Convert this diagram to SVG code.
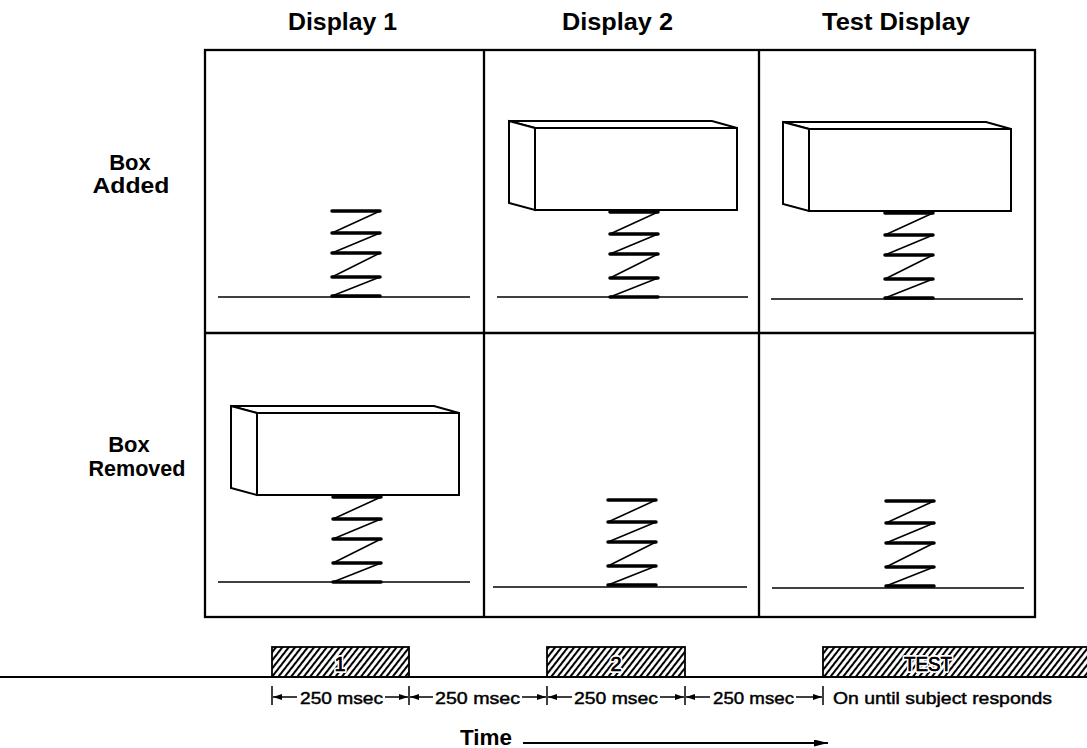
<svg xmlns="http://www.w3.org/2000/svg" xmlns:xlink="http://www.w3.org/1999/xlink" width="1087" height="748" viewBox="0 0 1087 748">
<style>
.hdr{font-family:"Liberation Sans",Arial,sans-serif;font-weight:bold;font-size:23px;fill:#000}
.lbl{font-family:"Liberation Sans",Arial,sans-serif;font-weight:bold;font-size:22px;fill:#000;text-anchor:middle}
.tl{font-family:"Liberation Sans",Arial,sans-serif;font-size:17px;fill:#000;stroke:#000;stroke-width:0.45}
.blk{font-family:"Liberation Sans",Arial,sans-serif;font-size:20px;fill:#000;text-anchor:middle;stroke:#fff;stroke-width:4;paint-order:stroke;stroke-linejoin:round}
.blk2{font-family:"Liberation Sans",Arial,sans-serif;font-size:20px;fill:#000;text-anchor:middle;stroke:#000;stroke-width:0.5}
.grid{fill:none;stroke:#000;stroke-width:2.3}
.ground{stroke:#000;stroke-width:1.6}
.bar{stroke:#000;stroke-width:3.5;stroke-linecap:round;fill:none}
.diag{stroke:#000;stroke-width:1.6;fill:none}
.box{fill:#fff;stroke:#000;stroke-width:2;stroke-linejoin:miter}
.tick{stroke:#000;stroke-width:1.5}
.arr{stroke:#000;stroke-width:1.5}
</style>
<defs>
<pattern id="hatch" patternUnits="userSpaceOnUse" width="5" height="10" patternTransform="rotate(38)">
<line x1="1" y1="-1" x2="1" y2="11" stroke="#000" stroke-width="2.1"/>
</pattern>
<marker id="ah" viewBox="0 0 9 6" refX="9" refY="3" markerWidth="9" markerHeight="6" orient="auto-start-reverse" markerUnits="userSpaceOnUse">
<path d="M0,0 L9,3 L0,6 z" fill="#000"/>
</marker>
<marker id="ahBig" viewBox="0 0 14 7" refX="14" refY="3.5" markerWidth="14" markerHeight="7" orient="auto" markerUnits="userSpaceOnUse">
<path d="M0,0 L14,3.5 L0,7 z" fill="#000"/>
</marker>
<g id="spring">
<path class="diag" d="M48,0 L0,22 M48,22 L0,42 M48,42 L0,66 M48,66 L0,85"/>
<path class="bar" d="M0,0 H48 M0,22 H48 M0,42 H48 M0,66 H48 M0,85 H48"/>
</g>
<g id="block">
<path class="box" d="M-26,-7 H177 L202,0 H0 Z"/>
<path class="box" d="M0,0 L-26,-7 V75 L0,82 Z"/>
<rect class="box" x="0" y="0" width="202" height="82"/>
</g>
</defs>
<rect width="1087" height="748" fill="#fff"/>

<g id="headers">
<text class="hdr" x="288" y="30" textLength="109" lengthAdjust="spacingAndGlyphs">Display 1</text>
<text class="hdr" x="562" y="30" textLength="111" lengthAdjust="spacingAndGlyphs">Display 2</text>
<text class="hdr" x="822" y="30" textLength="148" lengthAdjust="spacingAndGlyphs">Test Display</text>
</g>

<g id="row-labels">
<text class="lbl" x="130" y="170">Box</text>
<text class="lbl" x="131" y="193" textLength="77" lengthAdjust="spacingAndGlyphs">Added</text>
<text class="lbl" x="129" y="452">Box</text>
<text class="lbl" x="137" y="476" textLength="97" lengthAdjust="spacingAndGlyphs">Removed</text>
</g>

<g id="grid">
<rect class="grid" x="205" y="50" width="830" height="567"/>
<line class="grid" x1="484" y1="50" x2="484" y2="617"/>
<line class="grid" x1="759" y1="50" x2="759" y2="617"/>
<line class="grid" x1="205" y1="333" x2="1035" y2="333"/>
</g>

<g id="cell-r1c1">
<line class="ground" x1="218" y1="297" x2="470" y2="297"/>
<use xlink:href="#spring" href="#spring" x="332" y="211"/>
</g>
<g id="cell-r1c2">
<line class="ground" x1="497" y1="297" x2="748" y2="297"/>
<use xlink:href="#spring" href="#spring" x="610" y="212"/>
<use xlink:href="#block" href="#block" x="535" y="128"/>
</g>
<g id="cell-r1c3">
<line class="ground" x1="771" y1="299" x2="1023" y2="299"/>
<use xlink:href="#spring" href="#spring" x="885" y="213"/>
<use xlink:href="#block" href="#block" x="809" y="129"/>
</g>
<g id="cell-r2c1">
<line class="ground" x1="218" y1="582" x2="470" y2="582"/>
<use xlink:href="#spring" href="#spring" x="333" y="497"/>
<use xlink:href="#block" href="#block" x="257" y="413"/>
</g>
<g id="cell-r2c2">
<line class="ground" x1="493" y1="587" x2="747" y2="587"/>
<use xlink:href="#spring" href="#spring" x="608" y="500"/>
</g>
<g id="cell-r2c3">
<line class="ground" x1="772" y1="588" x2="1024" y2="588"/>
<use xlink:href="#spring" href="#spring" x="886" y="501"/>
</g>

<g id="timeline">
<rect x="272" y="647" width="137" height="30" fill="url(#hatch)" stroke="#000" stroke-width="1.8"/>
<rect x="547" y="647" width="138" height="30" fill="url(#hatch)" stroke="#000" stroke-width="1.8"/>
<rect x="823" y="647" width="270" height="30" fill="url(#hatch)" stroke="#000" stroke-width="1.8"/>
<line x1="0" y1="677" x2="1087" y2="677" stroke="#000" stroke-width="1.8"/>
<text class="blk" x="340" y="671">1</text>
<text class="blk" x="616" y="671">2</text>
<text class="blk" x="928" y="671" textLength="48" lengthAdjust="spacingAndGlyphs">TEST</text>
<text class="blk2" x="340" y="671">1</text>
<text class="blk2" x="616" y="671">2</text>
<text class="blk2" x="928" y="671" textLength="48" lengthAdjust="spacingAndGlyphs">TEST</text>
</g>

<g id="connectors">
<line class="tick" x1="272" y1="686" x2="272" y2="705"/>
<line class="tick" x1="409" y1="686" x2="409" y2="705"/>
<line class="tick" x1="547" y1="686" x2="547" y2="705"/>
<line class="tick" x1="685" y1="686" x2="685" y2="705"/>
<line class="tick" x1="823" y1="686" x2="823" y2="705"/>
<line class="arr" x1="297" y1="697" x2="273" y2="697" marker-end="url(#ah)"/>
<line class="arr" x1="385" y1="697" x2="408" y2="697" marker-end="url(#ah)"/>
<line class="arr" x1="433" y1="697" x2="410" y2="697" marker-end="url(#ah)"/>
<line class="arr" x1="522" y1="697" x2="546" y2="697" marker-end="url(#ah)"/>
<line class="arr" x1="572" y1="697" x2="548" y2="697" marker-end="url(#ah)"/>
<line class="arr" x1="660" y1="697" x2="684" y2="697" marker-end="url(#ah)"/>
<line class="arr" x1="710" y1="697" x2="686" y2="697" marker-end="url(#ah)"/>
<line class="arr" x1="796" y1="697" x2="822" y2="697" marker-end="url(#ah)"/>
<line x1="523" y1="743" x2="828" y2="743" stroke="#000" stroke-width="1.8" marker-end="url(#ahBig)"/>
</g>

<g id="time-labels">
<text class="tl" x="300" y="704" textLength="83" lengthAdjust="spacingAndGlyphs">250 msec</text>
<text class="tl" x="435" y="704" textLength="85" lengthAdjust="spacingAndGlyphs">250 msec</text>
<text class="tl" x="574" y="704" textLength="84" lengthAdjust="spacingAndGlyphs">250 msec</text>
<text class="tl" x="713" y="704" textLength="81" lengthAdjust="spacingAndGlyphs">250 msec</text>
<text class="tl" x="833" y="704" textLength="219" lengthAdjust="spacingAndGlyphs">On until subject responds</text>
<text x="460" y="745" font-family="'Liberation Sans', Arial, sans-serif" font-weight="bold" font-size="22" textLength="52" lengthAdjust="spacingAndGlyphs">Time</text>
</g>
</svg>
